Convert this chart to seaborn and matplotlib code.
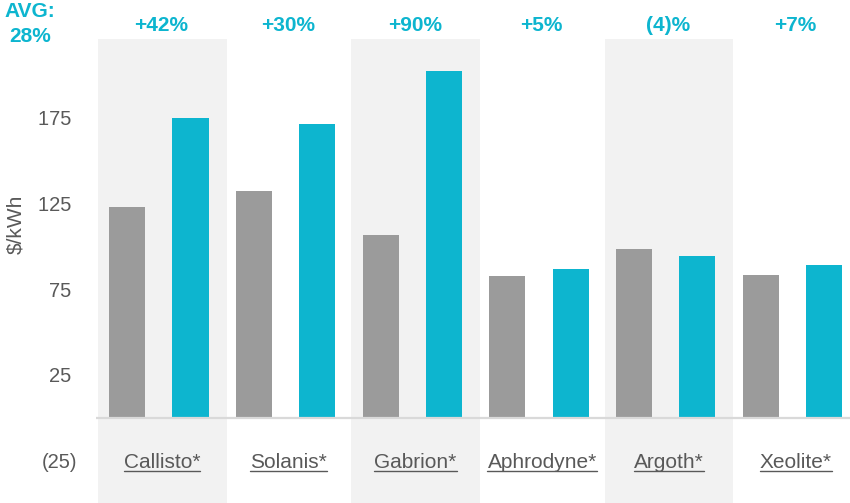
import numpy as np
import pandas as pd
import matplotlib
matplotlib.use("Agg")
import matplotlib.pyplot as plt
import seaborn as sns
from matplotlib.lines import Line2D

# ---- data ----
categories = ["Callisto*", "Solanis*", "Gabrion*", "Aphrodyne*", "Argoth*", "Xeolite*"]
series_names = ["Prior", "Current"]
prior_values = [123.0, 132.3, 106.6, 82.7, 98.3, 83.3]
current_values = [174.7, 171.6, 202.2, 86.8, 94.2, 89.1]
change_labels = ["+42%", "+30%", "+90%", "+5%", "(4)%", "+7%"]
avg_label = "AVG:\n28%"
ytick_values = [-25, 25, 75, 125, 175]
ytick_labels = ["(25)", "25 ", "75 ", "125 ", "175 "]
y_label = "$/kWh"

GRAY = "#9b9b9b"
TEAL = "#0db5cf"
BAND = "#f2f2f2"
TXT = "#595959"

df = pd.DataFrame({
    "category": categories * 2,
    "series": [series_names[0]] * len(categories) + [series_names[1]] * len(categories),
    "value": prior_values + current_values,
})

sns.set_theme(style="white")
plt.rcParams["font.family"] = ["Liberation Sans", "DejaVu Sans"]

fig = plt.figure(figsize=(8.5, 5.03), dpi=100)
W, H = 850, 503
ax = fig.add_axes([96 / W, 0, (W - 96) / W, 1])
ax.set_facecolor("white")

# alternating background bands
for i in range(0, len(categories), 2):
    ax.axvspan(i - 0.48, i + 0.535, ymin=0, ymax=1 - 39 / H, color=BAND, lw=0, zorder=0)

sns.barplot(data=df, x="category", y="value", hue="series", order=categories,
            hue_order=series_names, palette=[GRAY, TEAL], width=1.0, gap=0.43,
            saturation=1, legend=False, ax=ax, zorder=2, linewidth=0,
            err_kws={"linewidth": 0})

ax.set_xlim(-0.496, 5.455)
ax.set_ylim(-49.7, 243.8)
ax.axhline(0, color="#d9d9d9", lw=1.6, zorder=3)

for s in ax.spines.values():
    s.set_visible(False)

ax.set_yticks(ytick_values)
ax.set_yticklabels(ytick_labels)
ax.tick_params(axis="y", length=0, pad=13.7, labelsize=14.5, labelcolor=TXT)

xt = [i + 0.025 for i in range(len(categories))]
ax.set_xticks(xt)
ax.set_xticklabels(categories)
ax.tick_params(axis="x", length=0, pad=-25.2, labelsize=15, labelcolor=TXT)
for lab in ax.get_xticklabels():
    lab.set_va("baseline")
ax.set_xlabel("")
ax.set_ylabel("")

# change labels on top
for i, t in enumerate(change_labels):
    ax.text(i + 0.02, 229.2, t, ha="center", va="center", fontsize=15,
            fontweight="bold", color=TEAL)

fig.text(30 / W, 1 - 24 / H, avg_label, ha="center", va="center", fontsize=15,
         fontweight="bold", color=TEAL, linespacing=1.35)
fig.text(15.5 / W, 1 - 224 / H, y_label, ha="center", va="center", rotation=90,
         fontsize=15, color=TXT)

# underline category labels
fig.canvas.draw()
renderer = fig.canvas.get_renderer()
for lab in ax.get_xticklabels():
    bb = lab.get_window_extent(renderer)
    bx, by = lab.get_transform().transform(lab.get_position())
    yline = by - 2.5
    fig.add_artist(Line2D([bb.x0 / W, bb.x1 / W], [yline / H, yline / H],
                          transform=fig.transFigure, color=TXT, lw=1.0))

fig.savefig("out.png", dpi=100, facecolor="white")
